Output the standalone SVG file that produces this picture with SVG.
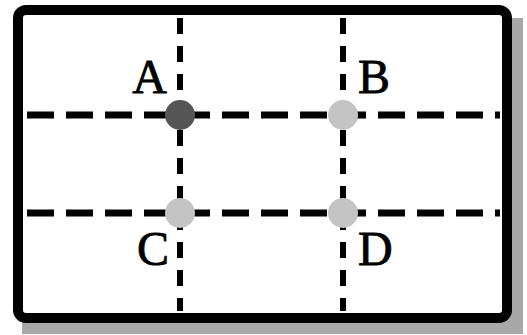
<svg xmlns="http://www.w3.org/2000/svg" width="527" height="335" viewBox="0 0 527 335">
<style>
.frame{fill:#fff;stroke:#000;stroke-width:10}
.shadow{fill:#a8a8a8}
.h{stroke:#000;stroke-width:7;stroke-dasharray:27 12;fill:none}
.v{stroke:#000;stroke-width:6;stroke-dasharray:16 12;fill:none}
.lbl{font-family:"Liberation Serif","Times New Roman",serif;font-size:48px;fill:#000;stroke:#000;stroke-width:0.8}
.pt{stroke:none}
</style>
<rect width="527" height="335" fill="#fff"/>
<g id="frame">
<rect class="shadow" x="508" y="18" width="15" height="316"/>
<rect class="shadow" x="22" y="319" width="501" height="15"/>
<rect class="frame" x="18" y="10" width="489" height="308" rx="8"/>
</g>
<g id="connectors">
<line class="h" x1="27" y1="115" x2="500" y2="115"/>
<line class="h" x1="27" y1="213" x2="500" y2="213"/>
<line class="v" x1="180" y1="18" x2="180" y2="311"/>
<line class="v" x1="343" y1="18" x2="343" y2="311"/>
</g>
<g id="A">
<circle class="pt" cx="180" cy="115" r="15" fill="#555"/>
<text class="lbl" x="167" y="93" text-anchor="end">A</text>
</g>
<g id="B">
<circle class="pt" cx="343" cy="115" r="15" fill="#c4c4c4"/>
<text class="lbl" x="358" y="93">B</text>
</g>
<g id="C">
<circle class="pt" cx="180" cy="213" r="15" fill="#c4c4c4"/>
<text class="lbl" x="169" y="265" text-anchor="end">C</text>
</g>
<g id="D">
<circle class="pt" cx="343" cy="213" r="15" fill="#c4c4c4"/>
<text class="lbl" x="358" y="265">D</text>
</g>
</svg>
